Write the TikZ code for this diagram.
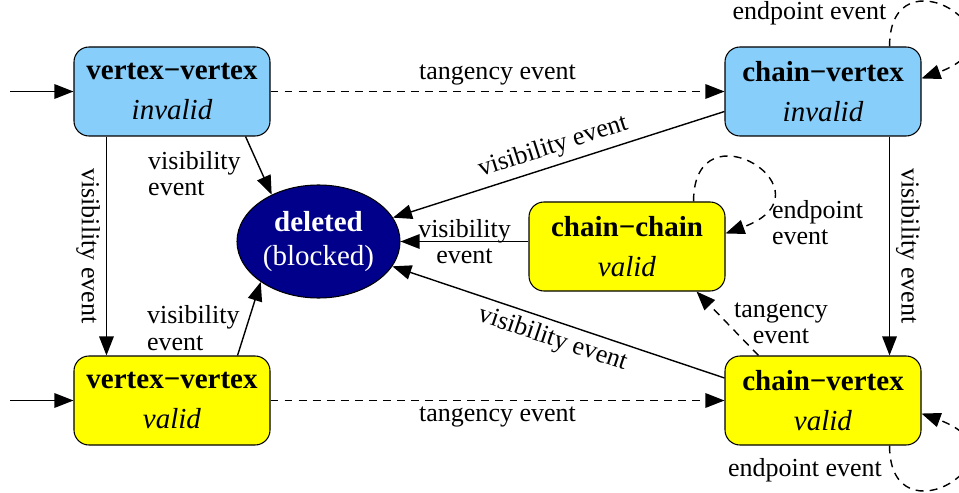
\documentclass[tikz,border=0pt]{standalone}
\usepackage{fontspec}
\setmainfont{Liberation Serif}
\usetikzlibrary{shapes.geometric,arrows.meta}

\definecolor{invalidblue}{RGB}{135,206,250}
\definecolor{validyellow}{RGB}{255,255,0}
\definecolor{deletedblue}{RGB}{0,0,139}

\begin{document}
\begin{tikzpicture}[>={Triangle[length=3.8mm,width=2.9mm]},
 state/.style={draw, line width=0.6pt, rounded corners=0.3cm, minimum width=3.92cm,
  minimum height=1.78cm, inner sep=0pt, align=center, font=\fontsize{16.5}{23}\selectfont},
 invalid/.style={state, fill=invalidblue},
 valid/.style={state, fill=validyellow},
 lbl/.style={font=\fontsize{14.8}{15}\selectfont},
 edge/.style={->, line width=0.8pt},
 tang/.style={edge, dash pattern=on 4.5pt off 3.5pt}]
 \useasboundingbox (0,0) rectangle (19.18,9.84);

 \node [invalid] (vvinv) at (3.44,8.01) {\textbf{vertex−vertex}\\\textit{invalid}};
 \node [invalid] (cvinv) at (16.46,8.01) {\textbf{chain−vertex}\\\textit{invalid}};
 \node [valid] (cc) at (12.54,4.91) {\textbf{chain−chain}\\\textit{valid}};
 \node [valid] (vvval) at (3.44,1.83) {\textbf{vertex−vertex}\\\textit{valid}};
 \node [valid] (cvval) at (16.46,1.83) {\textbf{chain−vertex}\\\textit{valid}};
 \node [ellipse, fill=deletedblue, draw=black, line width=0.6pt, inner sep=0pt,
  minimum width=3.26cm, minimum height=2.26cm, text=white, align=center,
  font=\fontsize{16.5}{19}\selectfont] (del) at (6.37,5.01) {\textbf{deleted}\\(blocked)};

 % start states
 \coordinate (in1) at (0.2,8.01);
 \coordinate (in2) at (0.2,1.83);
 \draw [edge] (in1) -- (vvinv);
 \draw [edge] (in2) -- (vvval);

 % tangency
 \draw [tang] (vvinv) -- (cvinv) node[midway, above, lbl] {tangency event};
 \draw [tang] (vvval) -- (cvval) node[midway, below, lbl] {tangency event};
 \draw [tang] ([xshift=0.68cm]cvval.north west) -- ([xshift=-0.58cm]cc.south east)
  node[midway, right, align=center, lbl] {tangency\\event};

 % visibility
 \draw [edge] ([xshift=0.66cm]vvinv.south west) -- ([xshift=0.66cm]vvval.north west)
  node[midway, sloped, below, lbl] {visibility event};
 \draw [edge] ([xshift=-0.64cm]cvinv.south east) -- ([xshift=-0.64cm]cvval.north east)
  node[midway, sloped, above, lbl] {visibility event};
 \draw [edge] ([xshift=-0.5cm]vvinv.south east) -- (del.135)
  node[pos=0.64, left, xshift=-0.3cm, align=left, lbl] {visibility\\event};
 \draw [edge] ([xshift=-0.66cm]vvval.north east) -- (del.215)
  node[pos=0.37, left, align=left, lbl] {visibility\\event};
 \draw [edge] ([yshift=-0.4cm]cvinv.west) -- (del)
  node[midway, sloped, above, lbl] {visibility event};
 \draw [edge] ([yshift=0.45cm]cvval.west) -- (del)
  node[midway, sloped, below, lbl] {visibility event};
 \draw [edge] (cc.west |- del) -- (del)
  node[midway, align=center, lbl] {visibility\\event};

 % endpoint loops
 \draw [tang] ([xshift=-0.64cm]cvinv.north east) .. controls +(0,2) and +(20:2.4) ..
  ([yshift=-0.64cm]cvinv.north east) node[pos=0.15, left, xshift=-0.1cm, lbl] {endpoint event};
 \draw [tang] ([xshift=-0.64cm]cc.north east) .. controls +(0,2) and +(20:2.4) ..
  ([yshift=-0.64cm]cc.north east) node[pos=0.8, right, yshift=-0.35cm, align=left, lbl] {endpoint\\event};
 \draw [tang] ([xshift=-0.64cm]cvval.south east) .. controls +(0,-2) and +(-20:2.4) ..
  ([yshift=0.64cm]cvval.south east) node[pos=0.1, left, xshift=-0.1cm, lbl] {endpoint event};
\end{tikzpicture}
\end{document}
